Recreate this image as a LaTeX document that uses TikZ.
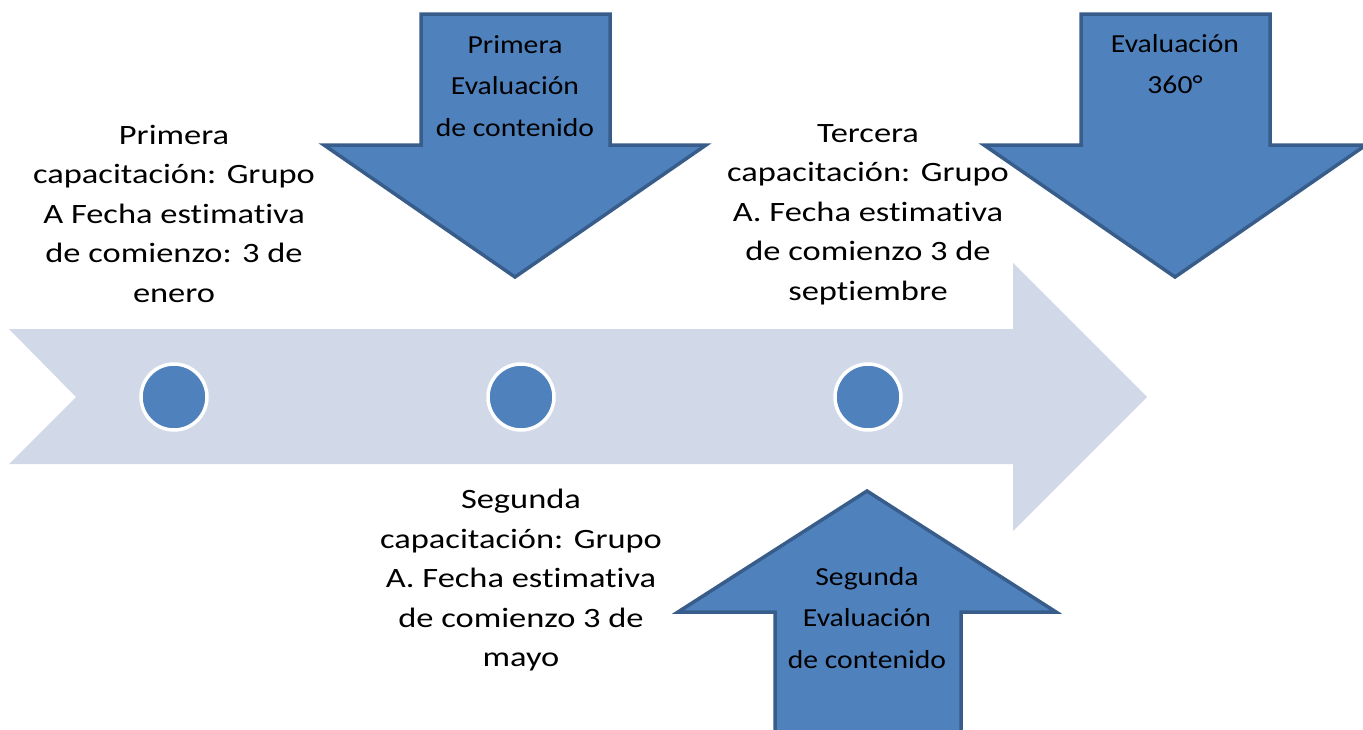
\documentclass[tikz,border=0pt]{standalone}
\usepackage{fontspec}
\setmainfont{Carlito}
\newfontfamily\widefont[FakeStretch=1.23,Ligatures=NoCommon]{Carlito}
\newfontfamily\evalfont[FakeStretch=1.14,Ligatures=NoCommon]{Carlito}
\definecolor{lineback}{HTML}{D1D8E8}
\definecolor{evalblue}{HTML}{4F81BD}
\definecolor{evaledge}{HTML}{385D8A}
\tikzset{
  evalarrow/.style={fill=evalblue,draw=evaledge,line width=3.5pt,line join=miter},
  milestone/.style={circle,fill=evalblue,draw=white,line width=3.5pt,minimum size=66pt,inner sep=0pt},
  steptext/.style={align=center,anchor=north,inner sep=0pt,font=\widefont\fontsize{28}{39.5}\selectfont},
  evaltext/.style={align=center,anchor=north,inner sep=0pt,font=\evalfont\fontsize{26}{41.5}\selectfont}
}
\begin{document}
\begin{tikzpicture}[x=1pt,y=-1pt]
  \useasboundingbox (0,0) rectangle (1363,729);
  % timeline
  \fill[lineback] (9,329) -- (1013,329) -- (1013,263) -- (1147,397) -- (1013,531) --
   (1013,464) -- (9,464) -- (76,397) -- cycle;
  \node[milestone] (m1) at (174,397) {};
  \node[milestone] (m2) at (521,397) {};
  \node[milestone] (m3) at (868,397) {};
  % evaluations
  \draw[evalarrow] (421,14) -- (610,14) -- (610,145) -- (706,145) -- (515,277) --
   (324,145) -- (421,145) -- cycle;
  \draw[evalarrow] (1081,14) -- (1270,14) -- (1270,145) -- (1366,145) -- (1175,277) --
   (984,145) -- (1081,145) -- cycle;
  \draw[evalarrow] (775,740) -- (775,612) -- (678,612) -- (867,491) -- (1056,612) --
   (961,612) -- (961,740);
  \node[evaltext] (e1) at (515,35) {Primera\\Evaluación\\de contenido};
  \node[evaltext] (e2) at (1175,34) {Evaluación\\360°};
  \node[evaltext] (e3) at (867,567) {Segunda\\Evaluación\\de contenido};
  % trainings
  \node[steptext] (t1) at (174,125) {Primera\\capacitación: Grupo\\A Fecha estimativa\\de comienzo: 3 de\\enero};
  \node[steptext] (t2) at (521,489) {Segunda\\capacitación: Grupo\\A. Fecha estimativa\\de comienzo 3 de\\mayo};
  \node[steptext] (t3) at (868,124) {Tercera\\capacitación: Grupo\\A. Fecha estimativa\\de comienzo 3 de\\septiembre};
\end{tikzpicture}
\end{document}
